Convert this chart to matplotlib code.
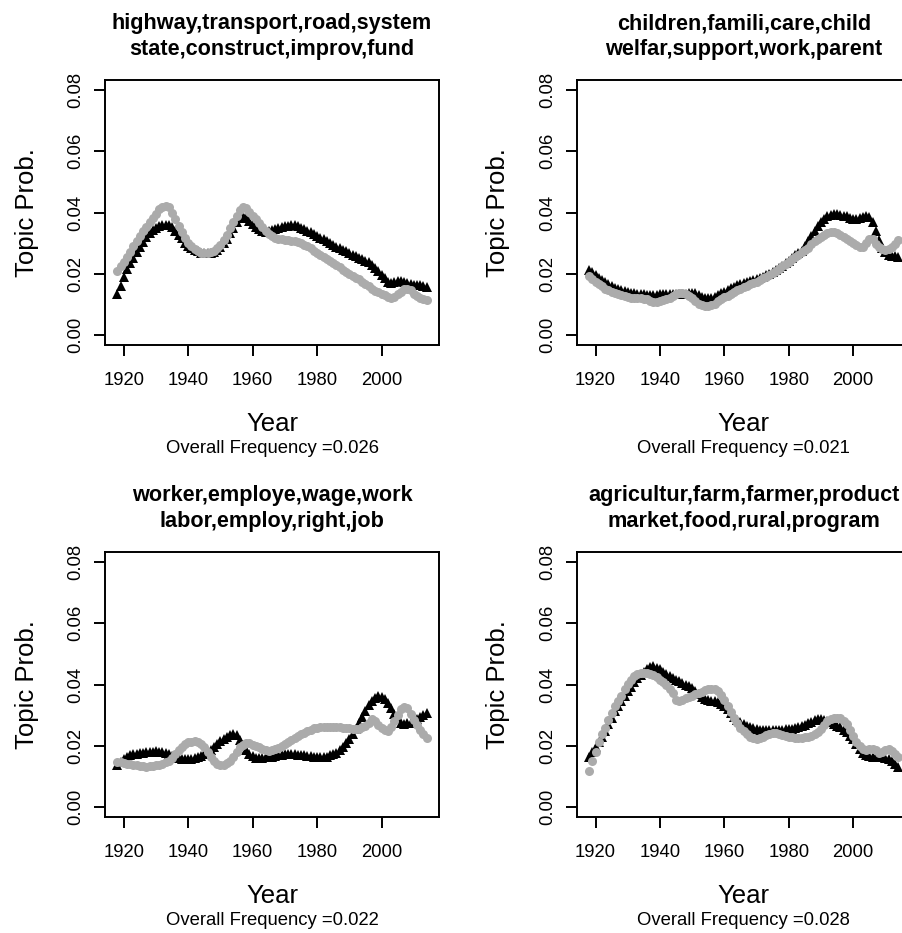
import numpy as np
import matplotlib
matplotlib.use("Agg")
import matplotlib.pyplot as plt

plt.rcParams['font.family'] = ['Liberation Sans', 'DejaVu Sans']

years = np.arange(1918, 2015)

titles = [
    ["highway,transport,road,system", "state,construct,improv,fund"],
    ["children,famili,care,child", "welfar,support,work,parent"],
    ["worker,employe,wage,work", "labor,employ,right,job"],
    ["agricultur,farm,farmer,product", "market,food,rural,program"],
]
overall_freq = ["0.026", "0.021", "0.022", "0.028"]
yticks = [0.00, 0.02, 0.04, 0.06, 0.08]
ytick_labels = ["0.00", "0.02", "0.04", "0.06", "0.08"]
xticks = [1920, 1940, 1960, 1980, 2000]
xtick_labels = ["1920", "1940", "1960", "1980", "2000"]

highway_black = [
    .0135, .0161, .0191, .0215, .0235, .0252, .0270, .0288, .0305, .0320,
    .0332, .0342, .0350, .0356, .0359, .0360, .0358, .0352, .0340, .0328,
    .0316, .0302, .0292, .0284, .0278, .0273, .0269, .0267, .0267, .0268,
    .0272, .0278, .0287, .0300, .0315, .0332, .0350, .0368, .0383, .0389,
    .0383, .0372, .0362, .0353, .0345, .0340, .0338, .0340, .0343, .0346,
    .0350, .0353, .0355, .0357, .0359, .0358, .0355, .0350, .0345, .0340,
    .0335, .0330, .0324, .0318, .0312, .0306, .0300, .0294, .0288, .0283,
    .0278, .0273, .0268, .0263, .0258, .0253, .0248, .0243, .0238, .0230,
    .0220, .0208, .0196, .0185, .0175, .0170, .0173, .0177, .0178, .0175,
    .0170, .0166, .0165, .0164, .0162, .0160, .0158]
highway_gray = [
    .0208, .0224, .0240, .0256, .0272, .0290, .0308, .0325, .0340, .0354,
    .0368, .0382, .0395, .0410, .0418, .0420, .0418, .0400, .0378, .0356,
    .0335, .0316, .0302, .0290, .0280, .0274, .0269, .0267, .0268, .0271,
    .0276, .0284, .0295, .0310, .0328, .0348, .0370, .0390, .0408, .0418,
    .0414, .0403, .0390, .0378, .0365, .0352, .0340, .0330, .0322, .0317,
    .0314, .0312, .0310, .0309, .0308, .0307, .0305, .0301, .0295, .0290,
    .0283, .0276, .0267, .0262, .0256, .0250, .0243, .0236, .0229, .0221,
    .0213, .0207, .0200, .0194, .0188, .0182, .0175, .0168, .0159, .0152,
    .0145, .0140, .0135, .0130, .0123, .0120, .0126, .0135, .0142, .0150,
    .0152, .0146, .0135, .0128, .0122, .0119, .0116]

children_black = [
    .0213, .0205, .0196, .0188, .0181, .0174, .0167, .0161, .0155, .0150,
    .0146, .0143, .0140, .0138, .0136, .0135, .0134, .0133, .0132, .0132,
    .0132, .0132, .0133, .0134, .0135, .0135, .0134, .0133, .0133, .0134,
    .0135, .0136, .0137, .0136, .0132, .0126, .0121, .0120, .0122, .0126,
    .0131, .0136, .0142, .0148, .0153, .0158, .0163, .0167, .0171, .0175,
    .0178, .0181, .0184, .0187, .0191, .0196, .0201, .0207, .0213, .0220,
    .0227, .0235, .0243, .0251, .0260, .0268, .0276, .0290, .0306, .0322,
    .0340, .0356, .0370, .0380, .0388, .0393, .0395, .0394, .0392, .0390,
    .0387, .0383, .0378, .0378, .0382, .0386, .0389, .0385, .0368, .0340,
    .0310, .0285, .0270, .0262, .0258, .0257, .0256]
children_gray = [
    .0194, .0183, .0174, .0166, .0159, .0152, .0146, .0141, .0137, .0133,
    .0130, .0127, .0124, .0122, .0121, .0120, .0120, .0119, .0117, .0113,
    .0108, .0108, .0112, .0115, .0118, .0122, .0128, .0135, .0138, .0137,
    .0134, .0129, .0122, .0112, .0103, .0098, .0095, .0094, .0097, .0103,
    .0110, .0117, .0123, .0129, .0135, .0141, .0146, .0151, .0156, .0161,
    .0166, .0171, .0175, .0180, .0185, .0191, .0197, .0203, .0209, .0216,
    .0224, .0232, .0240, .0248, .0256, .0263, .0270, .0277, .0285, .0296,
    .0306, .0314, .0320, .0327, .0333, .0337, .0338, .0334, .0327, .0320,
    .0313, .0306, .0299, .0293, .0287, .0288, .0302, .0315, .0312, .0298,
    .0287, .0280, .0277, .0280, .0287, .0296, .0310]

worker_black = [
    .0137, .0148, .0157, .0163, .0169, .0173, .0175, .0177, .0178, .0179,
    .0180, .0181, .0182, .0181, .0180, .0178, .0174, .0168, .0163, .0160,
    .0158, .0157, .0157, .0158, .0160, .0163, .0167, .0172, .0178, .0187,
    .0197, .0207, .0216, .0223, .0229, .0235, .0238, .0234, .0220, .0203,
    .0187, .0175, .0166, .0161, .0159, .0160, .0162, .0164, .0165, .0167,
    .0169, .0171, .0172, .0173, .0173, .0172, .0171, .0170, .0169, .0168,
    .0166, .0164, .0163, .0162, .0163, .0165, .0169, .0173, .0178, .0186,
    .0197, .0210, .0222, .0238, .0256, .0274, .0294, .0314, .0332, .0346,
    .0355, .0361, .0360, .0352, .0340, .0323, .0305, .0288, .0276, .0272,
    .0273, .0276, .0280, .0286, .0294, .0301, .0308]
worker_gray = [
    .0148, .0146, .0144, .0142, .0140, .0138, .0136, .0134, .0133, .0132,
    .0133, .0135, .0137, .0139, .0142, .0146, .0151, .0160, .0172, .0185,
    .0197, .0206, .0211, .0214, .0216, .0214, .0206, .0195, .0180, .0163,
    .0151, .0142, .0137, .0138, .0144, .0151, .0165, .0180, .0195, .0204,
    .0209, .0208, .0204, .0200, .0196, .0191, .0187, .0184, .0185, .0189,
    .0194, .0200, .0206, .0213, .0220, .0226, .0232, .0238, .0243, .0248,
    .0253, .0257, .0259, .0261, .0262, .0263, .0263, .0262, .0261, .0260,
    .0259, .0258, .0257, .0255, .0254, .0256, .0261, .0266, .0276, .0286,
    .0280, .0268, .0258, .0251, .0250, .0262, .0280, .0300, .0320, .0326,
    .0322, .0305, .0285, .0267, .0252, .0238, .0224]

agri_black = [
    .0162, .0180, .0196, .0211, .0230, .0249, .0270, .0292, .0312, .0330,
    .0347, .0362, .0378, .0393, .0408, .0420, .0430, .0440, .0450, .0458,
    .0460, .0455, .0449, .0441, .0434, .0427, .0421, .0416, .0411, .0405,
    .0400, .0394, .0389, .0380, .0370, .0360, .0353, .0349, .0347, .0345,
    .0342, .0337, .0329, .0319, .0306, .0294, .0284, .0277, .0271, .0266,
    .0262, .0258, .0255, .0253, .0252, .0251, .0251, .0251, .0251, .0252,
    .0253, .0254, .0255, .0256, .0258, .0261, .0265, .0269, .0274, .0279,
    .0283, .0286, .0286, .0284, .0281, .0277, .0272, .0266, .0260, .0253,
    .0244, .0233, .0222, .0207, .0191, .0178, .0170, .0166, .0163, .0162,
    .0162, .0162, .0161, .0158, .0150, .0140, .0132]
agri_gray = [
    .0119, .0151, .0180, .0211, .0238, .0259, .0284, .0308, .0330, .0346,
    .0364, .0384, .0403, .0416, .0427, .0434, .0438, .0439, .0438, .0435,
    .0431, .0425, .0416, .0408, .0397, .0384, .0371, .0351, .0347, .0351,
    .0356, .0360, .0364, .0369, .0373, .0377, .0382, .0385, .0386, .0385,
    .0379, .0366, .0349, .0330, .0310, .0292, .0274, .0259, .0248, .0238,
    .0230, .0225, .0223, .0224, .0228, .0235, .0240, .0243, .0243, .0240,
    .0236, .0232, .0230, .0228, .0227, .0227, .0227, .0228, .0230, .0232,
    .0238, .0245, .0254, .0267, .0281, .0289, .0292, .0292, .0290, .0281,
    .0270, .0252, .0232, .0213, .0198, .0189, .0187, .0189, .0191, .0187,
    .0178, .0180, .0187, .0189, .0184, .0173, .0162]

black_series = [highway_black, children_black, worker_black, agri_black]
gray_series = [highway_gray, children_gray, worker_gray, agri_gray]

W, H = 902, 933
fig = plt.figure(figsize=(W / 100, H / 100), dpi=100)

# panel boxes in pixels: (left, top, right, bottom)
boxes = [(105, 80, 439, 345), (576.7, 80, 910.7, 345),
         (105, 552, 439, 817), (576.7, 552, 910.7, 817)]

GRAY = '#ABABAB'
FS_TICK = 13.3
FS_LAB = 18.5
FS_TITLE = 15.6


def fx(x):
    return x / W


def fy(y):
    return 1 - y / H


for i, (l, t, r, b) in enumerate(boxes):
    ax = fig.add_axes([l / W, 1 - b / H, (r - l) / W, (b - t) / H])
    ax.plot(years, black_series[i], ls='none', marker='^', ms=7.8,
            mew=0, color='black')
    ax.plot(years, gray_series[i], ls='none', marker='o', ms=6.5,
            mew=0, color=GRAY)
    span = years[-1] - years[0]
    ax.set_xlim(years[0] - 0.04 * span, years[-1] + 0.04 * span)
    ax.set_ylim(0 - 0.04 * 0.08, 0.08 + 0.04 * 0.08)
    ax.set_xticks(xticks)
    ax.set_xticklabels(xtick_labels)
    ax.set_yticks(yticks)
    ax.set_yticklabels(ytick_labels)
    for s in ax.spines.values():
        s.set_linewidth(1.4)
    ax.tick_params(axis='both', direction='out', length=7.8, width=1.4,
                   labelsize=FS_TICK, colors='black')
    ax.tick_params(axis='x', pad=11.5)
    ax.tick_params(axis='y', pad=7.2, labelrotation=90)
    for lbl in ax.get_yticklabels():
        lbl.set_va('center')
        lbl.set_ha('right')

    cx = (l + r) / 2
    fig.text(fx(cx), fy(t - 50.7), titles[i][0], ha='center', va='baseline',
             fontsize=FS_TITLE, fontweight='bold')
    fig.text(fx(cx), fy(t - 25), titles[i][1], ha='center', va='baseline',
             fontsize=FS_TITLE, fontweight='bold')
    fig.text(fx(cx), fy(b + 86), 'Year', ha='center', va='baseline',
             fontsize=FS_LAB)
    fig.text(fx(cx), fy(b + 108), 'Overall Frequency =' + overall_freq[i],
             ha='center', va='baseline', fontsize=FS_TICK)
    fig.text(fx(l - 66.3), fy((t + b) / 2), 'Topic Prob.', rotation=90,
             ha='right', va='center', fontsize=FS_LAB)

fig.savefig('out.png', dpi=100)
